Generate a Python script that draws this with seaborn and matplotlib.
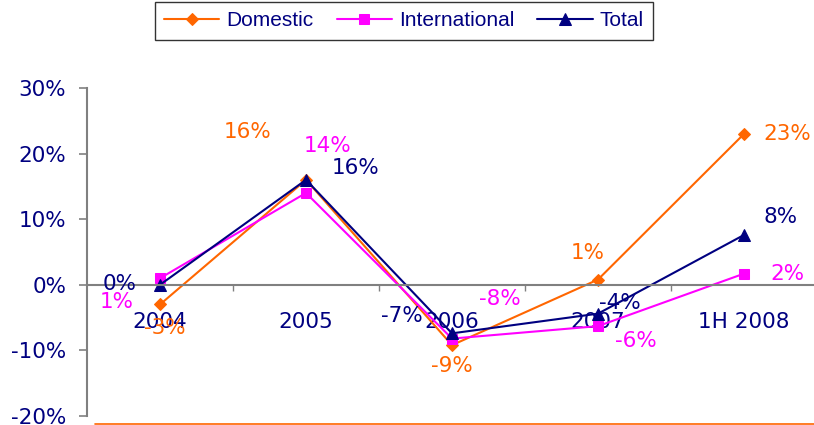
import matplotlib
matplotlib.use("Agg")
import matplotlib.pyplot as plt
from matplotlib.lines import Line2D
import seaborn as sns
import pandas as pd

periods = ["2004", "2005", "2006", "2007", "1H 2008"]
domestic = [-3.0, 16.0, -9.2, 0.8, 23.0]
international = [1.0, 14.0, -8.2, -6.3, 1.7]
total = [0.0, 16.0, -7.4, -4.4, 7.6]
domestic_labels = ["-3%", "16%", "-9%", "1%", "23%"]
international_labels = ["1%", "14%", "-8%", "-6%", "2%"]
total_labels = ["0%", "16%", "-7%", "-4%", "8%"]
y_ticks = [-20, -10, 0, 10, 20, 30]

series_names = ["Domestic", "International", "Total"]
colors = {"Domestic": "#FF6600", "International": "#FF00FF", "Total": "#000080"}
markers = {"Domestic": "D", "International": "s", "Total": "^"}
marker_sizes = {"Domestic": 6.5, "International": 6.5, "Total": 8}

rows = []
for name, vals in zip(series_names, [domestic, international, total]):
    for p, v in zip(periods, vals):
        rows.append({"period": p, "value": v, "series": name})
df = pd.DataFrame(rows)

sns.set_style("white")
plt.rcParams["font.family"] = ["DejaVu Sans"]

W, H = 814, 425
fig = plt.figure(figsize=(W / 100, H / 100), dpi=100)
ax = fig.add_axes([87 / W, 9 / H, 730 / W, 328 / H])

sns.lineplot(data=df, x="period", y="value", hue="series", style="series",
             markers=markers, dashes=False, palette=colors, sort=False,
             linewidth=1.5, markersize=7, ax=ax)

for line in ax.lines:
    c = line.get_color()
    line.set_markeredgecolor(c)
    line.set_markerfacecolor(c)

handles, labels = ax.get_legend_handles_labels()
for h in handles:
    c = h.get_color()
    h.set_markeredgecolor(c)
    h.set_markerfacecolor(c)
ax.get_legend().remove()

for line, name in zip(ax.lines, series_names):
    line.set_markersize(marker_sizes[name])
for h, name in zip(handles, labels):
    h.set_markersize(marker_sizes.get(name, 7))

ax.set_xlim(-0.5, 4.5)
ax.set_ylim(-20, 30)
ax.set_xlabel("")
ax.set_ylabel("")

FS = 15.5

# y axis
ax.set_yticks(y_ticks)
ax.set_yticklabels([f"{t}%" for t in y_ticks])
ax.tick_params(axis="y", direction="out", length=6, width=1.2, color="#808080",
               labelcolor="#000080", labelsize=FS, pad=9, left=True)
ax.spines["left"].set_color("#808080")
ax.spines["left"].set_linewidth(1.5)
ax.spines["top"].set_visible(False)
ax.spines["right"].set_visible(False)

# category axis crossing at zero
ax.spines["bottom"].set_position(("data", 0))
ax.spines["bottom"].set_color("#808080")
ax.spines["bottom"].set_linewidth(1.5)
ax.set_xticks(range(len(periods)))
ax.set_xticklabels(periods)
ax.set_xticks([0.5, 1.5, 2.5, 3.5], minor=True)
ax.tick_params(axis="x", which="major", length=0, pad=19.5, labelsize=FS,
               labelcolor="#000080", bottom=True)
ax.tick_params(axis="x", which="minor", direction="out", length=4, width=1,
               color="#808080", bottom=True)

# data labels (offsets in pixels)
px = 72 / 100
label_offsets = {
    "Domestic": [(5, -24), (-58, 48), (0, -21), (-10, 27), (43, 0)],
    "International": [(-43, -24), (22, 47), (48, 40), (38, -15), (43, 0)],
    "Total": [(-40, 1), (50, 12), (-50, 17), (22, 11), (37, 18)],
}
all_vals = {"Domestic": domestic, "International": international, "Total": total}
all_labels = {"Domestic": domestic_labels, "International": international_labels,
              "Total": total_labels}
for name in series_names:
    for i, (v, lab) in enumerate(zip(all_vals[name], all_labels[name])):
        dx, dy = label_offsets[name][i]
        ax.annotate(lab, xy=(i, v), xytext=(dx * px, dy * px),
                    textcoords="offset points", ha="center", va="center",
                    fontsize=FS, color=colors[name], zorder=5)

# legend
leg = fig.legend(handles, labels, loc="upper center", bbox_to_anchor=(404 / W, 1 - 2 / H),
                 ncol=3, frameon=True, fancybox=False,
                 prop={"family": "Liberation Sans", "size": 15},
                 handlelength=2.65, columnspacing=1.1, handletextpad=0.35,
                 borderpad=0.45, borderaxespad=0, edgecolor="black")
leg.get_frame().set_linewidth(1.0)
for t in leg.get_texts():
    t.set_color("#000080")

# orange bottom rule
fig.add_artist(Line2D([95 / W, 1.0], [1.5 / H, 1.5 / H], color="#FF6600",
                      linewidth=1.2, transform=fig.transFigure))

fig.savefig("out.png", dpi=100)
